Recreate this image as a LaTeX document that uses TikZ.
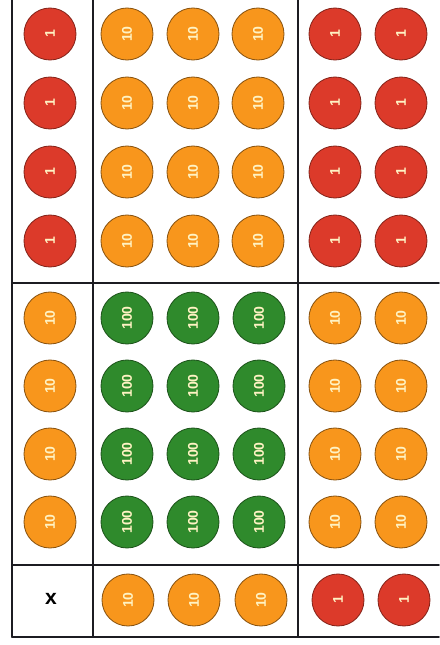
\documentclass[tikz,border=0pt]{standalone}
\usepackage{fontspec}
\setsansfont{Liberation Sans}
\usepackage{tikz}

\definecolor{coinred}{HTML}{DC3A2A}
\definecolor{coinorange}{HTML}{F8961C}
\definecolor{coingreen}{HTML}{2F8A2C}
\definecolor{cointext}{HTML}{FFF3C4}
\definecolor{gridline}{HTML}{1C1C22}

\begin{document}
\begin{tikzpicture}[x=0.03cm,y=-0.03cm,line cap=round,line join=round,
  coin/.style={circle,minimum size=1.56cm,inner sep=0pt,line width=0.7pt,text=cointext,
    font=\sffamily\bfseries\fontsize{12}{13}\selectfont,rotate=90},
  one/.style={coin,fill=coinred,draw=coinred!60!black},
  ten/.style={coin,fill=coinorange,draw=coinorange!55!black},
  hundred/.style={coin,fill=coingreen,draw=coingreen!60!black},
  rule/.style={line width=1.6pt,gridline}]
\useasboundingbox (0,0) rectangle (439,645);
\coordinate (t1) at (12,0);
\coordinate (t2) at (93,0);
\coordinate (t3) at (298,0);
\coordinate (b1) at (12,637);
\coordinate (b2) at (93,637);
\coordinate (b3) at (298,637);
\coordinate (h1l) at (12,283);
\coordinate (h1r) at (439,283);
\coordinate (h2l) at (12,565);
\coordinate (h2r) at (439,565);
\coordinate (h3r) at (439,637);
\draw[rule] (t1) -- (b1);
\draw[rule] (t2) -- (b2);
\draw[rule] (t3) -- (b3);
\draw[rule] (h1l) -- (h1r);
\draw[rule] (h2l) -- (h2r);
\draw[rule] (b1) -- (h3r);
% top block
\node[one] (a1) at (50,34) {1};
\node[one] (a2) at (50,103) {1};
\node[one] (a3) at (50,172) {1};
\node[one] (a4) at (50,241) {1};
\node[ten] (a1x) at (127,34) {10};
\node[ten] (a1y) at (193,34) {10};
\node[ten] (a1z) at (258,34) {10};
\node[ten] (a2x) at (127,103) {10};
\node[ten] (a2y) at (193,103) {10};
\node[ten] (a2z) at (258,103) {10};
\node[ten] (a3x) at (127,172) {10};
\node[ten] (a3y) at (193,172) {10};
\node[ten] (a3z) at (258,172) {10};
\node[ten] (a4x) at (127,241) {10};
\node[ten] (a4y) at (193,241) {10};
\node[ten] (a4z) at (258,241) {10};
\node[one] (a1u) at (335,34) {1};
\node[one] (a1v) at (401,34) {1};
\node[one] (a2u) at (335,103) {1};
\node[one] (a2v) at (401,103) {1};
\node[one] (a3u) at (335,172) {1};
\node[one] (a3v) at (401,172) {1};
\node[one] (a4u) at (335,241) {1};
\node[one] (a4v) at (401,241) {1};
% middle block
\node[ten] (m1) at (50,318) {10};
\node[ten] (m2) at (50,386) {10};
\node[ten] (m3) at (50,454) {10};
\node[ten] (m4) at (50,522) {10};
\node[hundred] (m1x) at (127,318) {100};
\node[hundred] (m1y) at (193,318) {100};
\node[hundred] (m1z) at (259,318) {100};
\node[hundred] (m2x) at (127,386) {100};
\node[hundred] (m2y) at (193,386) {100};
\node[hundred] (m2z) at (259,386) {100};
\node[hundred] (m3x) at (127,454) {100};
\node[hundred] (m3y) at (193,454) {100};
\node[hundred] (m3z) at (259,454) {100};
\node[hundred] (m4x) at (127,522) {100};
\node[hundred] (m4y) at (193,522) {100};
\node[hundred] (m4z) at (259,522) {100};
\node[ten] (m1u) at (335,318) {10};
\node[ten] (m1v) at (401,318) {10};
\node[ten] (m2u) at (335,386) {10};
\node[ten] (m2v) at (401,386) {10};
\node[ten] (m3u) at (335,454) {10};
\node[ten] (m3v) at (401,454) {10};
\node[ten] (m4u) at (335,522) {10};
\node[ten] (m4v) at (401,522) {10};
% bottom row
\node[font=\sffamily\bfseries\fontsize{18}{19}\selectfont] (times) at (51,599) {x};
\node[ten] (b1x) at (128,600) {10};
\node[ten] (b1y) at (194,600) {10};
\node[ten] (b1z) at (261,600) {10};
\node[one] (b1u) at (338,600) {1};
\node[one] (b1v) at (404,600) {1};
\end{tikzpicture}
\end{document}
